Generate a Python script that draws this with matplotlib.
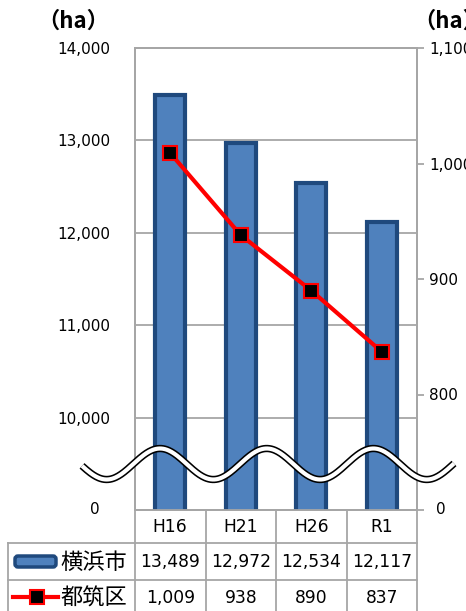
import matplotlib
matplotlib.use("Agg")
import matplotlib.pyplot as plt
import numpy as np
from matplotlib.lines import Line2D
from matplotlib.patches import FancyBboxPatch
from matplotlib.transforms import Affine2D, blended_transform_factory

# ---------------------------------------------------------------- data

categories = ["H16", "H21", "H26", "R1"]
yokohama = [13489, 12972, 12534, 12117]   # bars, left axis
tsuzuki = [1009, 938, 890, 837]           # line, right axis
series_names = ["横浜市", "都筑区"]
unit = "（ha）"

left_ticks = [9000, 10000, 11000, 12000, 13000, 14000]
left_labels = ["", "10,000", "11,000", "12,000", "13,000", "14,000"]
right_ticks = [700, 800, 900, 1000, 1100]
right_labels = ["", "800", "900", "1,000", "1,100"]

# ---------------------------------------------------------------- style

plt.rcParams["font.family"] = ["DejaVu Sans", "Noto Sans CJK JP"]
BAR_FILL = "#4F81BD"
BAR_EDGE = "#1F497D"
LINE_RED = "#FF0000"
GRID = "#A6A6A6"
CJK = ["Noto Sans CJK JP", "DejaVu Sans"]

W, H = 466, 611
fig = plt.figure(figsize=(W / 100, H / 100), dpi=100)
pix = Affine2D().scale(1 / W, -1 / H).translate(0, 1) + fig.transFigure

L, R, T, B = 135, 417, 48, 510
ax = fig.add_axes([L / W, 1 - B / H, (R - L) / W, (B - T) / H])
ax2 = ax.twinx()

x = np.arange(len(categories))

# bars
ax.bar(x, yokohama, width=0.42, bottom=0, color=BAR_FILL, edgecolor=BAR_EDGE,
       linewidth=3, zorder=3)
ax.set_xlim(-0.5, len(categories) - 0.5)
ax.set_ylim(left_ticks[0], left_ticks[-1])
ax.set_yticks(left_ticks)
ax.set_yticklabels(left_labels, fontsize=11)
ax.tick_params(axis="y", length=0, pad=18)
ax.set_xticks([])
ax.yaxis.grid(True, color=GRID, lw=1.3, zorder=0)
ax.set_axisbelow(True)
for s in ax.spines.values():
    s.set_color(GRID)
    s.set_linewidth(1.3)

# line
ax2.plot(x, tsuzuki, color=LINE_RED, lw=3, marker="s", markersize=10,
         markerfacecolor="black", markeredgecolor=LINE_RED, markeredgewidth=1.5,
         zorder=4)
ax2.set_ylim(right_ticks[0], right_ticks[-1])
ax2.set_yticks(right_ticks)
ax2.set_yticklabels(right_labels, fontsize=11)
ax2.tick_params(axis="y", length=5, width=1.3, color=GRID, pad=4)
for s in ax2.spines.values():
    s.set_color(GRID)
    s.set_linewidth(1.3)

# "0" labels at the axis break
fig.text(95, 510, "0", transform=pix, fontsize=11, ha="center", va="center")
fig.text(441, 510, "0", transform=pix, fontsize=11, ha="center", va="center")

# units
fig.text(73, 21, unit, transform=pix, fontsize=16, fontweight="bold",
         family=CJK, ha="center", va="center")
fig.text(449, 21, unit, transform=pix, fontsize=16, fontweight="bold",
         family=CJK, ha="center", va="center")

# ---------------------------------------------------------------- break wave

wx = np.linspace(82, 454, 400)
wy = 464 - 15.5 * np.cos(2 * np.pi * (wx - 160) / 106.7)
fig.add_artist(Line2D(wx, wy, transform=pix, color="black", lw=5.3,
                      solid_capstyle="butt", zorder=10, clip_on=False))
fig.add_artist(Line2D(wx, wy, transform=pix, color="white", lw=3.0,
                      solid_capstyle="butt", zorder=11, clip_on=False))

# ---------------------------------------------------------------- data table

tx = blended_transform_factory(ax.transData, pix)
row_y = [510, 543, 580, 617]
text_y = [527, 562, 598]
TL = 8

def hline(x0, x1, y, tr=pix):
    fig.add_artist(Line2D([x0, x1], [y, y], transform=tr, color=GRID, lw=1.3,
                          clip_on=False))

def vline(xv, y0, y1, tr=pix):
    fig.add_artist(Line2D([xv, xv], [y0, y1], transform=tr, color=GRID, lw=1.3,
                          clip_on=False))

for y in row_y[1:3]:
    hline(TL, R, y)
vline(TL, row_y[1], H)
for i in range(len(categories) + 1):
    vline(i - 0.5, row_y[0], H, tr=tx)

for i, c in enumerate(categories):
    fig.text(i, text_y[0], c, transform=tx, fontsize=12.3, ha="center", va="center")
    fig.text(i, text_y[1], f"{yokohama[i]:,}", transform=tx, fontsize=12.3,
             ha="center", va="center")
    fig.text(i, text_y[2], f"{tsuzuki[i]:,}", transform=tx, fontsize=12.3,
             ha="center", va="center")

# legend keys
fig.add_artist(FancyBboxPatch((15, 556), 41, 11, boxstyle="round,pad=0,rounding_size=3",
                              transform=pix, facecolor=BAR_FILL, edgecolor=BAR_EDGE,
                              lw=2.5))
fig.add_artist(Line2D([13, 58], [597, 597], transform=pix, color=LINE_RED, lw=3))
fig.add_artist(Line2D([37], [597], transform=pix, marker="s", markersize=10,
                      markerfacecolor="black", markeredgecolor=LINE_RED,
                      markeredgewidth=1.5))
fig.text(94, text_y[1], series_names[0], transform=pix, fontsize=16,
         family=CJK, ha="center", va="center")
fig.text(94, text_y[2], series_names[1], transform=pix, fontsize=16,
         family=CJK, ha="center", va="center")

fig.savefig("out.png", dpi=100)
